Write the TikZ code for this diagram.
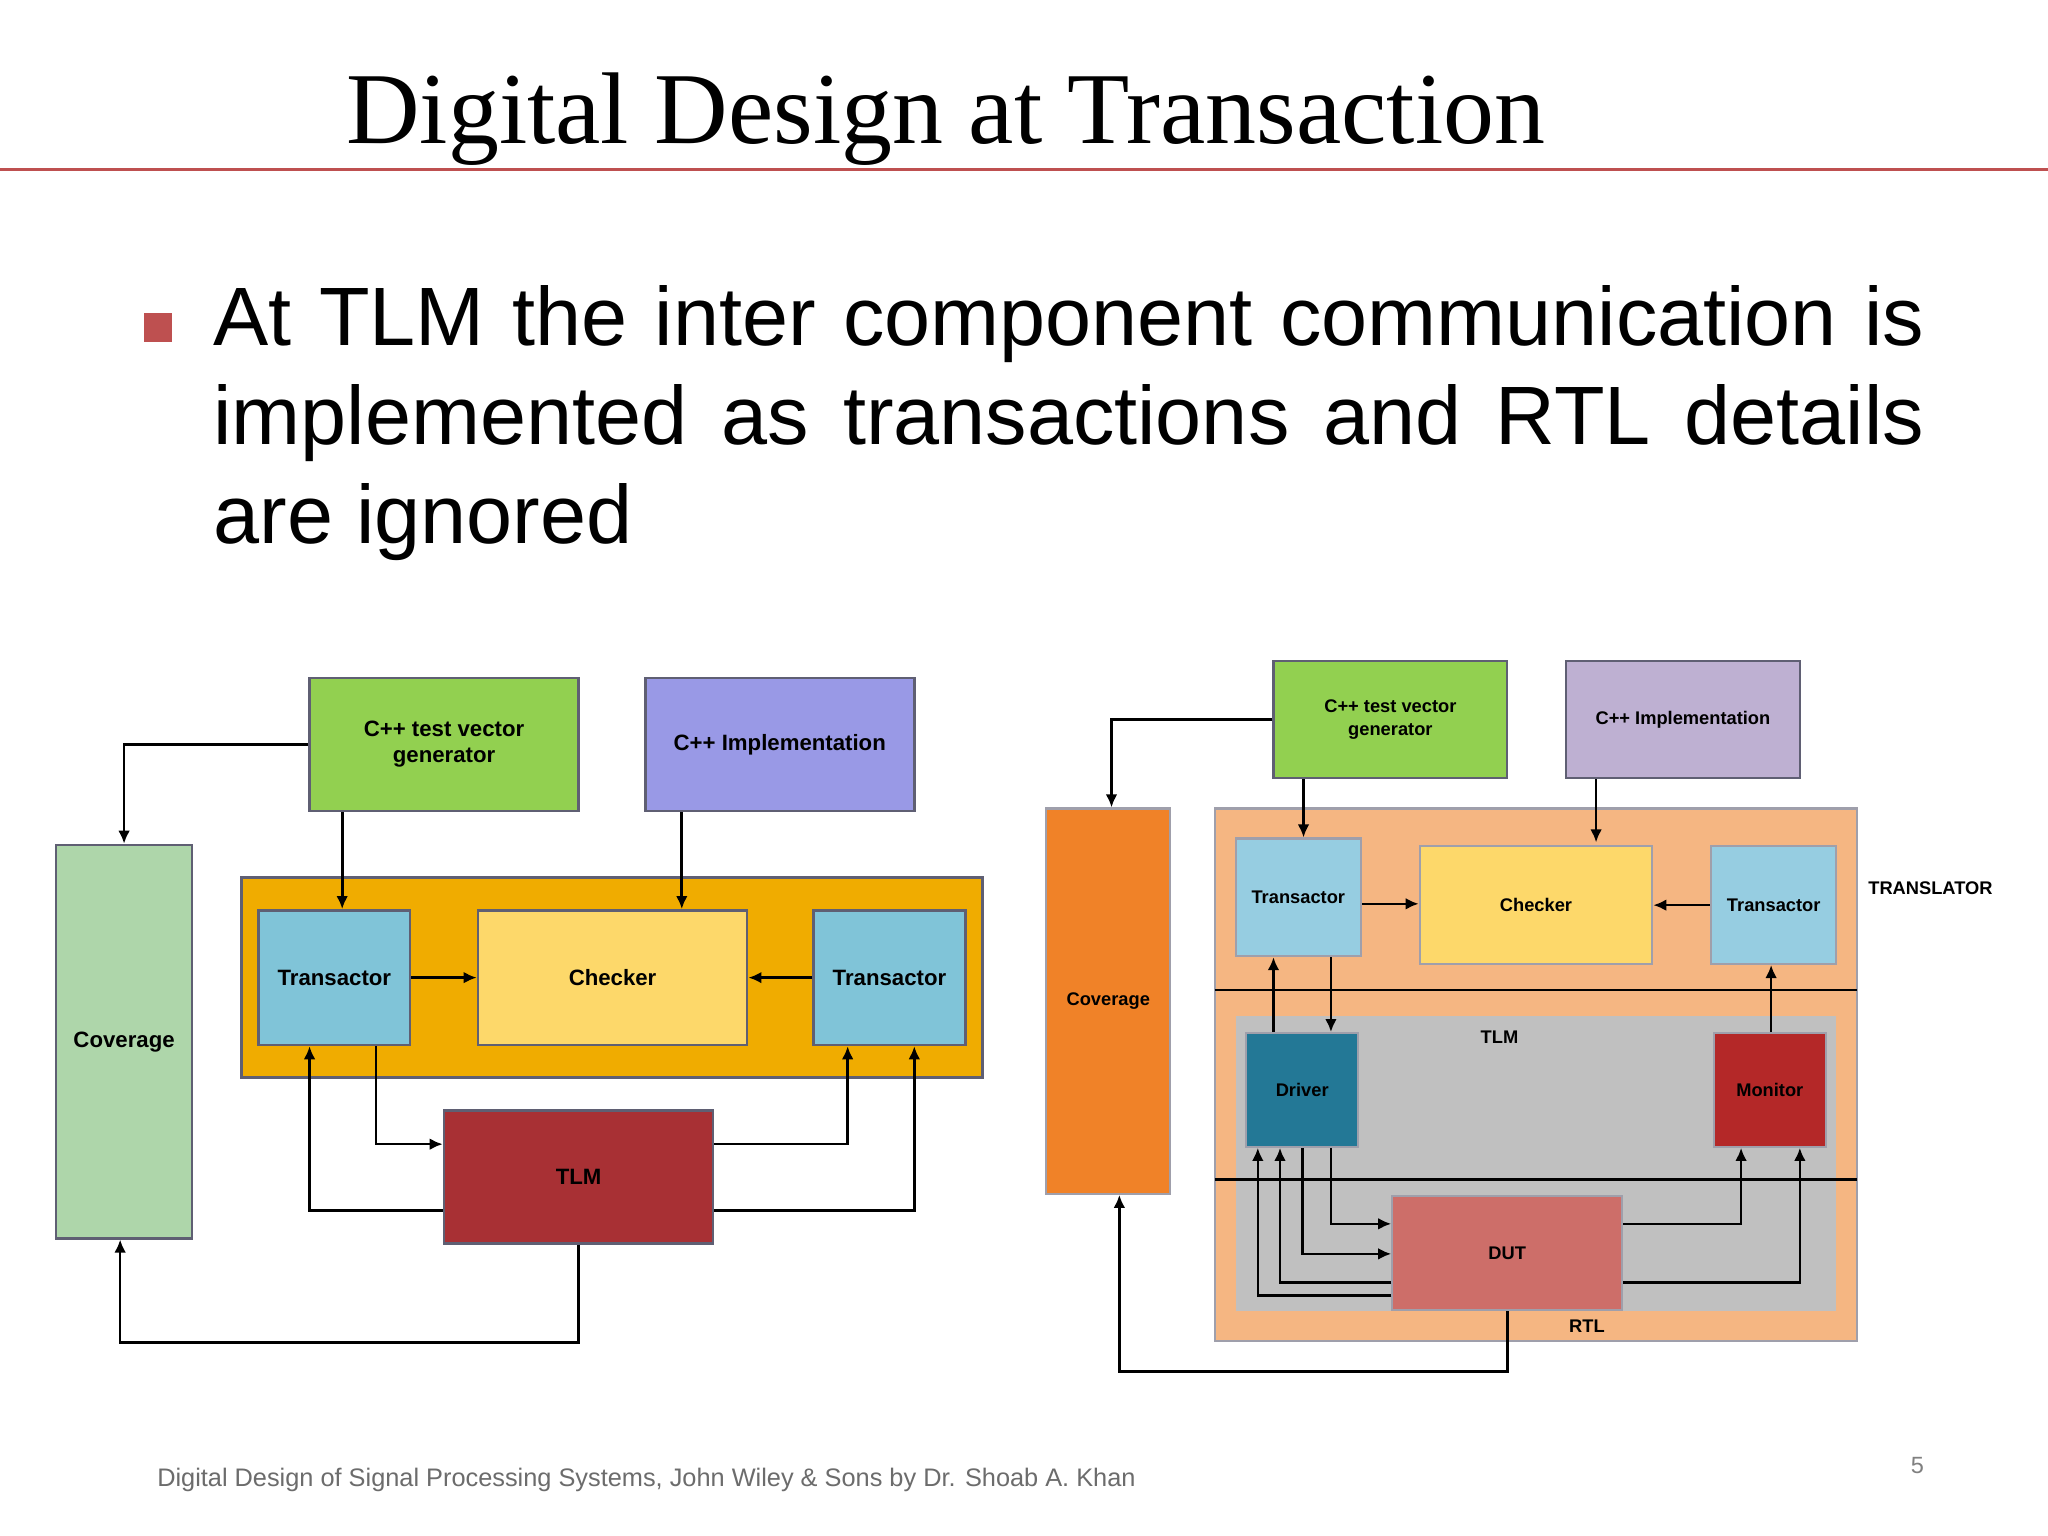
\documentclass[tikz,border=0pt]{standalone}
\usepackage{fontspec}
\setmainfont{Liberation Sans}
\newfontfamily\titlefont{Liberation Serif}
\usetikzlibrary{arrows.meta,fit}
\definecolor{redline}{RGB}{190,80,80}
\definecolor{lgreen}{RGB}{146,208,80}
\definecolor{lviolet}{RGB}{153,153,230}
\definecolor{covgreen}{RGB}{174,214,170}
\definecolor{amber}{RGB}{240,172,0}
\definecolor{tblue}{RGB}{128,196,216}
\definecolor{cyell}{RGB}{253,216,106}
\definecolor{tlmred}{RGB}{168,48,52}
\definecolor{rlav}{RGB}{190,176,210}
\definecolor{rorange}{RGB}{240,130,40}
\definecolor{peach}{RGB}{245,182,130}
\definecolor{rgray}{RGB}{192,192,192}
\definecolor{rtblue}{RGB}{150,205,225}
\definecolor{drv}{RGB}{35,120,150}
\definecolor{mon}{RGB}{180,40,40}
\definecolor{dut}{RGB}{205,110,105}
\definecolor{bord}{RGB}{95,95,115}
\begin{document}
\begin{tikzpicture}[x=0.5pt,y=-0.5pt,
  box/.style={draw=bord,line width=1pt,inner sep=0pt},
  rbox/.style={draw=bord!60,line width=0.8pt,inner sep=0pt},
  lt/.style={align=center,inner sep=0pt,font=\fontsize{8.5}{10}\selectfont\bfseries},
  rt/.style={align=center,inner sep=0pt,font=\fontsize{7}{9}\selectfont\bfseries},
  arr/.style={line width=1pt,-{Latex[length=5pt,width=4.5pt]}},
  ln/.style={line width=1pt}]
\path[fill=white,use as bounding box] (0,0) rectangle (1568,1176);
% title
\node[font=\titlefont\fontsize{39}{42}\selectfont,anchor=base,inner sep=0pt] (title) at (724,110) {Digital Design at Transaction};
\coordinate (rl1) at (0,130); \coordinate (rl2) at (1568,130);
\draw[redline,line width=1pt] (rl1) -- (rl2);
\node[fill=redline,minimum size=11pt,inner sep=0pt] (bul) at (121,251) {};
\node[anchor=north west,text width=655pt,align=justify,inner sep=0pt,font=\fontsize{31.7}{38}\selectfont] (body) at (163,218)
 {At TLM the inter component communication is implemented as transactions and RTL details are ignored};
% left diagram
\node[box,fill=lgreen,fit={(237,519)(443,621)}] (tvg) {};
\node[box,fill=lviolet,fit={(494,519)(700,621)}] (impl) {};
\node[box,fill=covgreen,fit={(43,647)(147,948)}] (cov) {};
\node[box,fill=amber,fit={(185,672)(752,825)}] (cont) {};
\node[box,fill=tblue,fit={(198,697)(314,800)}] (tl) {};
\node[box,fill=cyell,fit={(366,697)(572,800)}] (chk) {};
\node[box,fill=tblue,fit={(623,697)(739,800)}] (tr) {};
\node[box,fill=tlmred,fit={(340,850)(546,952)}] (tlm) {};
\node[lt] (tvgt) at (tvg.center) {C++ test vector\\generator};
\node[lt] (implt) at (impl.center) {C++ Implementation};
\node[lt] (covt) at (cov.center) {Coverage};
\node[lt] (tlt) at (tl.center) {Transactor};
\node[lt] (chkt) at (chk.center) {Checker};
\node[lt] (trt) at (tr.center) {Transactor};
\node[lt] (tlmt) at (tlm.center) {TLM};
\draw[arr] (tvg.west) -| (cov.north -| 95,0);
\draw[arr] (262,0 |- tvg.south) -- (262,0 |- tl.north);
\draw[arr] (522,0 |- impl.south) -- (522,0 |- chk.north);
\draw[arr] (tl.east) -- (chk.west);
\draw[arr] (tr.west) -- (chk.east);
\draw[arr] (288,0 |- tl.south) |- (tlm.west |- 0,876);
\draw[arr] (tlm.west |- 0,927) -| (237,0 |- tl.south);
\draw[arr] (tlm.east |- 0,876) -| (649,0 |- tr.south);
\draw[arr] (tlm.east |- 0,927) -| (700,0 |- tr.south);
\coordinate (lb) at (443,1028);
\draw[arr] (tlm.south) -- (lb) -| (92,0 |- cov.south);
% right diagram
\node[rbox,fill=lgreen,draw=bord,fit={(975,506)(1154,596)}] (rtvg) {};
\node[rbox,fill=rlav,draw=bord,fit={(1199,506)(1378,596)}] (rimpl) {};
\node[rbox,fill=rorange,fit={(801,619)(896,914)}] (rcov) {};
\node[rbox,fill=peach,fit={(930,619)(1422,1027)}] (outer) {};
\node[fill=rgray,inner sep=0pt,fit={(946,778)(1406,1004)}] (gray) {};
\coordinate (h1a) at (930,758); \coordinate (h1b) at (1422,758);
\coordinate (h2a) at (930,903); \coordinate (h2b) at (1422,903);
\draw[ln] (h1a) -- (h1b);
\draw[ln] (h2a) -- (h2b);
\node[rbox,fill=rtblue,fit={(946,642)(1042,732)}] (rtl) {};
\node[rbox,fill=cyell,fit={(1087,648)(1265,738)}] (rchk) {};
\node[rbox,fill=rtblue,fit={(1310,648)(1406,738)}] (rtr) {};
\node[rbox,fill=drv,fit={(954,791)(1040,878)}] (drv) {};
\node[rbox,fill=mon,fit={(1312,791)(1398,878)}] (mon) {};
\node[rbox,fill=dut,fit={(1066,916)(1242,1003)}] (dut) {};
\node[rt] (rtvgt) at (rtvg.center) {C++ test vector\\generator};
\node[rt] (rimplt) at (rimpl.center) {C++ Implementation};
\node[rt] (rcovt) at (rcov.center) {Coverage};
\node[rt] (rtlt) at (rtl.center) {Transactor};
\node[rt] (rchkt) at (rchk.center) {Checker};
\node[rt] (rtrt) at (rtr.center) {Transactor};
\node[rt] (drvt) at (drv.center) {Driver};
\node[rt] (mont) at (mon.center) {Monitor};
\node[rt] (dutt) at (dut.center) {DUT};
\node[rt] (ltr) at (1478,680) {TRANSLATOR};
\node[rt] (ltlm) at (1148,794) {TLM};
\node[rt] (lrtl) at (1215,1015) {RTL};
\draw[arr] (rtvg.west) -| (rcov.north -| 851,0);
\draw[arr] (998,0 |- rtvg.south) -- (998,0 |- rtl.north);
\draw[arr] (1222,0 |- rimpl.south) -- (1222,645);
\draw[arr] (rtl.east |- 0,692) -- (rchk.west |- 0,692);
\draw[arr] (rtr.west) -- (rchk.east);
\draw[arr] (1019,0 |- rtl.south) -- (1019,0 |- drv.north);
\draw[arr] (975,0 |- drv.north) -- (975,0 |- rtl.south);
\draw[arr] (1356,0 |- mon.north) -- (1356,0 |- rtr.south);
\draw[arr] (1019,0 |- drv.south) |- (dut.west |- 0,937);
\draw[arr] (997,0 |- drv.south) |- (dut.west |- 0,960);
\draw[arr] (dut.west |- 0,982) -| (980,0 |- drv.south);
\draw[arr] (dut.west |- 0,992) -| (963,0 |- drv.south);
\draw[arr] (dut.east |- 0,937) -| (1333,0 |- mon.south);
\draw[arr] (dut.east |- 0,982) -| (1378,0 |- mon.south);
\coordinate (rb) at (1154,1050);
\draw[arr] (dut.south) -- (rb) -| (857,0 |- rcov.south);
% footer
\node[anchor=base west,inner sep=0pt,text=gray!85!black,font=\fontsize{9.7}{12}\selectfont] (foot) at (120,1138) {Digital Design of Signal Processing Systems, John Wiley \& Sons by Dr. Shoab A. Khan};
\node[anchor=base,inner sep=0pt,text=gray,font=\fontsize{9}{11}\selectfont] (pg) at (1468,1128) {5};
\end{tikzpicture}
\end{document}
